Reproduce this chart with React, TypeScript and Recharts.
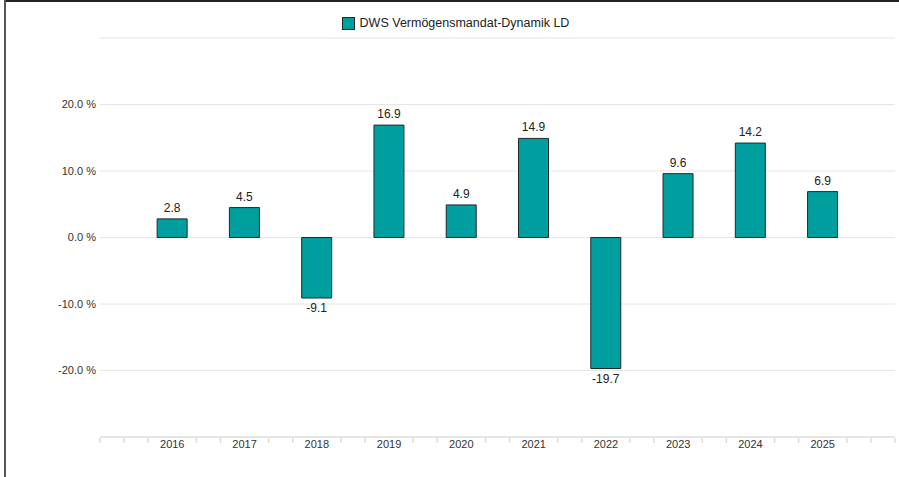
import { BarChart, Bar, XAxis, YAxis, CartesianGrid, Legend, LabelList } from "recharts";

const years = [2016, 2017, 2018, 2019, 2020, 2021, 2022, 2023, 2024, 2025];
const returns = [2.8, 4.5, -9.1, 16.9, 4.9, 14.9, -19.7, 9.6, 14.2, 6.9];
const yTicks = [-30, -20, -10, 0, 10, 20, 30];
const seriesName = "DWS Vermögensmandat-Dynamik LD";

const TEAL = "#009f9f";
const FONT = "'Liberation Sans', Arial, sans-serif";

const data = years.map((year, i) => ({ year, value: returns[i] }));

// minor ticks every third of a year, from 2015 to 2026
const xTicks: number[] = [];
for (let y = years[0] - 1; y <= years[years.length - 1]; y++) {
  xTicks.push(y, y + 1 / 3, y + 2 / 3);
}
xTicks.push(years[years.length - 1] + 1);

const XTick = (props: any) => {
  const { x, y, payload } = props;
  const v = payload.value;
  if (years.includes(v)) {
    return (
      <text x={x} y={y + 11} textAnchor="middle" fontSize={11} fill="#333" fontFamily={FONT}>
        {v}
      </text>
    );
  }
  return <line x1={x} x2={x} y1={y + 1} y2={y + 6} stroke="#dcdcdc" strokeWidth={1.5} />;
};

const ValueLabel = (props: any) => {
  const { x, y, width, height, value } = props;
  const top = Math.min(y, y + height);
  const bottom = Math.max(y, y + height);
  const ty = value >= 0 ? top - 7 : bottom + 14;
  return (
    <text x={x + width / 2} y={ty} textAnchor="middle" fontSize={12} fill="#222" fontFamily={FONT}>
      {value.toFixed(1)}
    </text>
  );
};

const LegendBox = () => (
  <div style={{ width: 899, display: "flex", justifyContent: "center", alignItems: "center", height: 30, paddingLeft: 12, boxSizing: "border-box", fontFamily: FONT }}>
    <span style={{ width: 11, height: 11, background: TEAL, border: "1px solid #1b2b2b", marginRight: 5 }} />
    <span style={{ fontSize: 12.5, color: "#222" }}>{seriesName}</span>
  </div>
);

export default function App() {
  return (
    <div style={{ position: "fixed", left: 0, top: 0, width: 899, height: 477, background: "#fff" }}>
      <div style={{ position: "absolute", left: 4, top: 0, width: 895, height: 2, background: "#222" }} />
      <div style={{ position: "absolute", left: 4, top: 0, width: 2, height: 477, background: "#555" }} />
      <BarChart width={899} height={477} data={data} margin={{ top: 8, right: 4, bottom: 10, left: 0 }}>
        <CartesianGrid vertical={false} stroke="#e6e6e6" />
        <XAxis
          dataKey="year"
          type="number"
          domain={[years[0] - 1, years[years.length - 1] + 1]}
          ticks={xTicks}
          interval={0}
          height={30}
          tickLine={false}
          tickSize={0}
          tickMargin={0}
          tick={<XTick />}
          axisLine={{ stroke: "#e6e6e6", strokeWidth: 2 }}
        />
        <YAxis
          width={100}
          domain={[-30, 30]}
          ticks={yTicks}
          interval={0}
          axisLine={false}
          tickLine={false}
          tickSize={4}
          tickMargin={0}
          tick={{ fontSize: 11, fill: "#333", fontFamily: FONT }}
          tickFormatter={(v: number) => (Math.abs(v) === 30 ? "" : `${v.toFixed(1)} %`)}
        />
        <Legend verticalAlign="top" align="center" height={30} content={<LegendBox />} />
        <Bar dataKey="value" name={seriesName} fill={TEAL} stroke="#1b2b2b" strokeWidth={1} barSize={30} isAnimationActive={false}>
          <LabelList dataKey="value" content={<ValueLabel />} />
        </Bar>
      </BarChart>
    </div>
  );
}
